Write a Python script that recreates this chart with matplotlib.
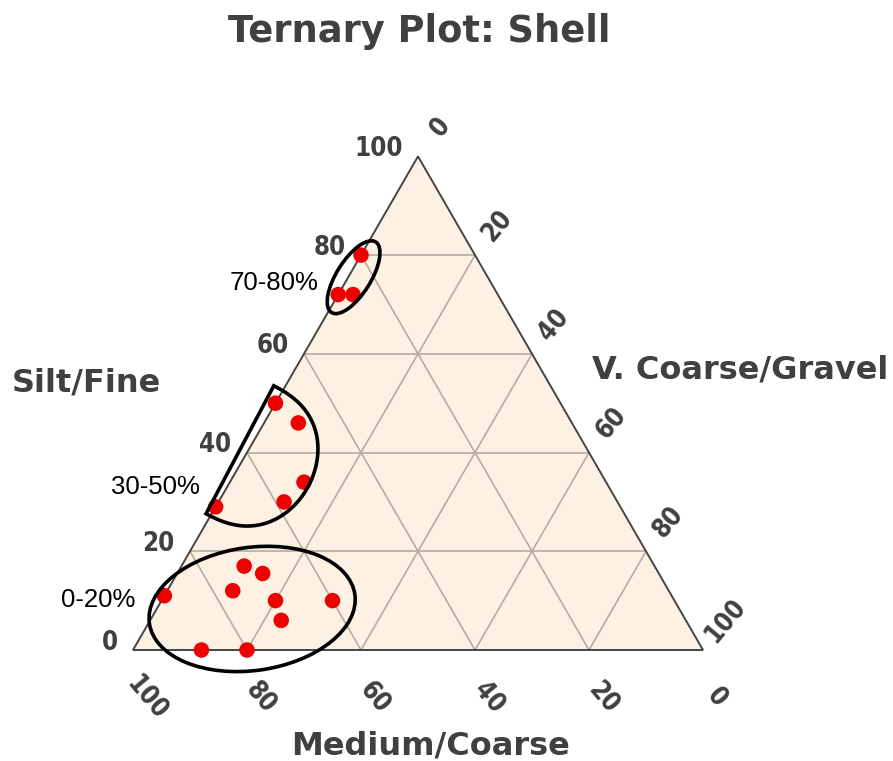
import numpy as np
import matplotlib
matplotlib.use("Agg")
import matplotlib.pyplot as plt
from matplotlib.patches import Ellipse, Polygon

# sample composition (percent): silt/fine and v. coarse/gravel, medium/coarse is the rest
silt = [50, 46, 34, 30, 29,
        17, 15.5, 12, 11, 10, 10, 6, 0, 0,
        80, 72, 72]
gravel = [0, 6, 13, 11.5, 0,
          11, 15, 11.5, 0, 20, 30, 23, 12, 20,
          0, 0, 2.6]
medium = [100 - s - g for s, g in zip(silt, gravel)]

ticks = [0, 20, 40, 60, 80, 100]
group_labels = ["70-80%", "30-50%", "0-20%"]
group_at = [75, 33.5, 10.8]   # silt level where each label sits

H = np.sqrt(3) / 2
text_col = "#404040"


def to_xy(s, g):
    s = np.asarray(s, float)
    g = np.asarray(g, float)
    return g + s / 2, s * H


fig = plt.figure(figsize=(8.93, 7.61), dpi=100)
ax = fig.add_axes([0, 0, 1, 1])
ax.set_xlim(-133 / 5.7, (893 - 133) / 5.7)
ax.set_ylim(-111 / 5.7, 650 / 5.7)
ax.axis("off")

# triangle background
corners = np.array([[0, 0], [100, 0], [50, 100 * H]])
ax.add_patch(Polygon(corners, closed=True, facecolor="#fdf1e3",
                     edgecolor="none", zorder=0))

# grid lines
for t in ticks[1:-1]:
    x0, y0 = to_xy(t, 0)
    x1, y1 = to_xy(t, 100 - t)
    ax.plot([x0, x1], [y0, y1], color="#b5aca3", lw=1.2, zorder=1)
    x0, y0 = to_xy(0, t)
    x1, y1 = to_xy(100 - t, t)
    ax.plot([x0, x1], [y0, y1], color="#b5aca3", lw=1.2, zorder=1)
    x0, y0 = to_xy(100 - t, 0)
    x1, y1 = to_xy(0, 100 - t)
    ax.plot([x0, x1], [y0, y1], color="#b5aca3", lw=1.2, zorder=1)

ax.add_patch(Polygon(corners, closed=True, facecolor="none",
                     edgecolor="#454545", lw=1.4, zorder=2))

# tick labels
tk = dict(fontsize=18.5, fontweight="bold", color=text_col,
          fontstretch="condensed")
for t in ticks:
    x, y = to_xy(t, 0)
    ax.text(x - 2.7, y + 1.3, str(t), ha="right", va="center", **tk)
    x, y = to_xy(0, 100 - t)
    ax.text(x + 2.4, y - 8.4, str(t), ha="center", va="center",
            rotation=-50, **tk)
    x, y = to_xy(100 - t, t)
    ax.text(x + 3.9, y + 5.1, str(t), ha="center", va="center",
            rotation=50, **tk)

# axis titles
lab = dict(fontsize=23, fontweight="bold", color=text_col)
ax.text(-21.2, 46.8, "Silt/Fine", ha="left", va="center", **lab)
ax.text(80.6, 49.2, "V. Coarse/Gravel", ha="left", va="center", **lab)
ax.text(52.2, -16.9, "Medium/Coarse", ha="center", va="center", **lab)
fig.text(0.469, 0.958, "Ternary Plot: Shell", ha="center", va="center",
         fontsize=26.5, fontweight="bold", color=text_col)

# samples
px, py = to_xy(silt, gravel)
ax.scatter(px, py, s=125, color="#ee0000", edgecolor="none", zorder=4)

# hand drawn groupings
loop = dict(facecolor="none", edgecolor="black", lw=2.6, zorder=5)
ax.add_patch(Ellipse((38.7, 65.4), 14.6, 6.0, angle=58, **loop))
ax.add_patch(Ellipse((20.9, 7.2), 36.4, 21.6, angle=8, **loop))

c = np.array([19.2, 34.9])
u = np.array([0.468, 0.884])
v = np.array([0.884, -0.468])
t = np.linspace(0, np.pi, 80)
ca, sa = np.cos(t), np.sin(t)
shape = np.abs(sa) ** 0.8
pts = c + np.outer(12.7 * ca, u) + np.outer(13.6 * shape, v) - 0.5 * v
ax.add_patch(Polygon(pts, closed=True, **loop))

# group labels
for name, s in zip(group_labels, group_at):
    x, y = to_xy(s, 0)
    ax.text(x - 5.0, y - 0.5, name, ha="right", va="center",
            fontsize=18.5, color="black", family="Liberation Sans")

fig.savefig("out.png", dpi=100)
